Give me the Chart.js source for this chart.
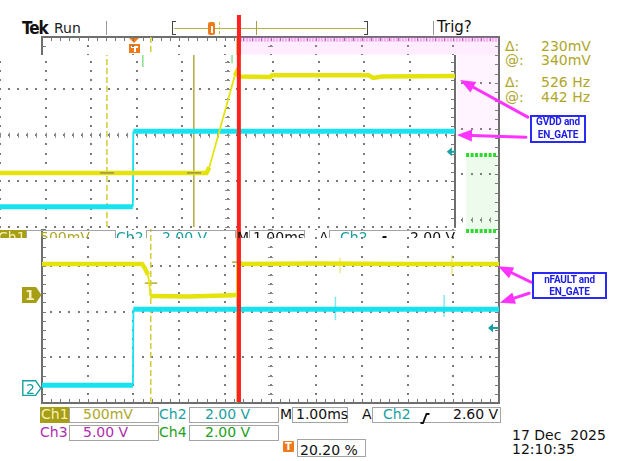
<!DOCTYPE html>
<html>
<head>
<meta charset="utf-8">
<title>Tek scope capture</title>
<script src="https://cdn.jsdelivr.net/npm/chart.js@4.4.1/dist/chart.umd.min.js"></script>
<style>
html,body{margin:0;padding:0;background:#fff;}
#wrap{position:relative;width:640px;height:461px;overflow:hidden;background:#fff;font-family:"DejaVu Sans",Verdana,sans-serif;}
#under{position:absolute;left:0;top:0;width:640px;height:461px;z-index:0;}
#cLow{position:absolute;left:0;top:0;z-index:1;display:block;}
#upWrap{position:absolute;left:0;top:55px;width:456px;height:174px;background:#fff;z-index:2;}
#cUp{display:block;}
#frag{position:absolute;left:0;top:229px;width:456px;height:9px;overflow:hidden;z-index:3;}
#over{position:absolute;left:0;top:0;width:640px;height:461px;z-index:4;pointer-events:none;}
</style>
</head>
<body>
<div id="wrap">
  <div id="under"></div>
  <canvas id="cLow" width="640" height="461"></canvas>
  <div id="upWrap"><canvas id="cUp" width="456" height="174"></canvas></div>
  <div id="frag"></div>
  <div id="over"></div>
</div>
<script>
// ================= DATA (all in scope divisions) =================
const xDivTicks   = [0,1,2,3,4,5,6,7,8,9,10];
const lowYDivTicks = [0,1,2,3,4,5,6,7,8];
const upYDivTicks  = [0,1,2,3];

// lower capture : nFAULT (Ch1, yellow) and EN_GATE (Ch2, cyan)
const lowCh1Time  = [0, 2.19, 2.25, 2.32, 2.36, 2.37, 3.20, 4.00, 4.26, 4.27, 6.00, 8.00, 10];
const lowCh1Level = [3.04, 3.04, 2.95, 2.80, 2.50, 2.34, 2.33, 2.35, 2.36, 3.04, 3.05, 3.04, 3.04];
const lowCh1GlitchTime   = [6.52, 8.97];
const lowCh1GlitchTop    = [3.17, 3.23];
const lowCh1GlitchBottom = [2.84, 2.80];
const lowCh2Time  = [0, 1.99, 2.00, 10];
const lowCh2Level = [0.39, 0.39, 2.05, 2.05];
const lowCh2GlitchTime   = [6.42, 8.80];
const lowCh2GlitchTop    = [2.32, 2.36];
const lowCh2GlitchBottom = [1.81, 1.88];
const lowCursorTime  = [2.38, 4.27];
const lowMarkStart   = [2.25, 4.16];
const lowMarkEnd     = [2.52, 4.38];
const lowMarkLevel   = [2.62, 3.08];
// Ch3 (magenta) and Ch4 (green) noise visible around the pasted upper capture
const ch3StripTime   = [4.33, 9.98];
const ch3DenseLevel  = 7.94;
const ch3StripCeil   = 8.0;
const ch3StripFloor  = 7.62;
const ch3ColumnTime  = [9.08, 9.98];
const ch3ColumnFloor = 5.9;
const ch4Time   = [9.28, 9.96];
const ch4High   = 5.42;
const ch4Low    = 3.76;
// red marker line
const redLowTime = 4.31;
const redLowSpan = [0.02, 8.48];

// upper capture : GVDD (Ch1, yellow) and EN_GATE (Ch2, cyan)
const upCh1Time  = [0, 4.54, 4.60, 5.16, 5.20, 5.25, 5.94, 5.98, 8.10, 8.20, 8.40, 10];
const upCh1Level = [1.18, 1.18, 1.30, 3.30, 3.38, 3.28, 3.27, 3.31, 3.31, 3.25, 3.28, 3.29];
const upCh2Time  = [0, 2.92, 2.93, 10];
const upCh2Level = [0.44, 0.44, 2.09, 2.09];
const upCursorTime = [2.35, 4.26];
const upMarkStart  = [2.20, 4.11];
const upMarkEnd    = [2.51, 4.42];
const upMarkLevel  = [1.18, 1.18];
const upCh4TickTime = [3.14, 5.10];
const upCh4TickFrom = [3.49, 3.57];
const redUpTime = 5.25;
const redUpSpan = [-0.1, 3.85];

// ================= STYLE =================
const YEL = '#e4e40c', CYA = '#16e2f0', OLIVE = '#b0a628', TEAL = '#1a9fa0',
      PURPLE = '#b02cb0', GREEN = '#22a022', ORANGE = '#f07a1a', RED = '#ff2020',
      MAG = '#ff33ff', BLUE = '#2020e6';

const P = (xs, ys) => xs.map((x, i) => ({x: x, y: ys[i]}));
const V = (x, y0, y1) => [{x: x, y: y0}, {x: x, y: y1}];
const H = (x0, x1, y) => [{x: x0, y: y}, {x: x1, y: y}];
function ds(data, color, width, extra) {
  return Object.assign({data: data, borderColor: color, backgroundColor: color, borderWidth: width,
    pointRadius: 0, pointHoverRadius: 0, tension: 0, fill: false, order: 5}, extra || {});
}
const thinEdges = {borderWidth: c => {
  const dx = Math.abs(c.p1.x - c.p0.x), dy = Math.abs(c.p1.y - c.p0.y);
  return dy > 3 * dx + 3 ? 1.8 : undefined;
}};

function divScale(min, max, ticks, isX) {
  return {
    type: 'linear', min: min, max: max,
    ticks: {display: false},
    grid: {display: false, drawTicks: false},
    border: {display: false},
    afterBuildTicks: s => { s.ticks = ticks.map(v => ({value: v})); },
    afterFit: s => { if (isX) s.height = 0; else s.width = 0; }
  };
}

// decorations (graticule dots, frame, center axes, trigger level arrow, annotation arrows)
const scopeDecor = {
  cLow: {sides: {top: true, right: true, bottom: true, left: true}, cx: 5, cy: 4,
         xMajor: xDivTicks, yMajor: lowYDivTicks,
         trig: {x: 9.76, y: 1.64},
         arrows: [
           {from: [10.63, 6.25], to: [9.15, 7.06]},
           {from: [10.59, 5.81], to: [9.08, 5.86]},
           {from: [10.70, 2.64], to: [9.98, 2.99]},
           {from: [10.66, 2.40], to: [10.02, 2.19]}
         ]},
  cUp: {sides: {top: false, right: true, bottom: false, left: false}, cx: 5, cy: 2,
        xMajor: xDivTicks, yMajor: upYDivTicks,
        trig: {x: 9.82, y: 1.64}, arrows: []}
};

function minorValues(max) {
  const out = [];
  for (let k = 0; k * 0.2 <= max + 1e-6; k++) out.push(k * 0.2);
  return out;
}

const scopePlugin = {
  id: 'scopeDecor',
  beforeDatasetsDraw(chart) {
    const d = scopeDecor[chart.canvas.id]; if (!d) return;
    const {ctx, chartArea: a} = chart, x = chart.scales.x, y = chart.scales.y;
    const xMin = minorValues(x.max), yMin = minorValues(y.max);
    ctx.save();
    // graticule: dots at every minor position along each major division line
    ctx.fillStyle = '#7a7a7a';
    d.xMajor.forEach(xv => {
      const px = Math.round(x.getPixelForValue(xv));
      yMin.forEach(yv => {
        const py = Math.round(y.getPixelForValue(yv));
        ctx.fillRect(px - 1, py - 1, 2, 2);
      });
    });
    d.yMajor.forEach(yv => {
      const py = Math.round(y.getPixelForValue(yv));
      xMin.forEach(xv => {
        const px = Math.round(x.getPixelForValue(xv));
        ctx.fillRect(px - 1, py - 1, 2, 2);
      });
    });
    // center axes tick marks
    const cx = x.getPixelForValue(d.cx), cy = y.getPixelForValue(d.cy);
    ctx.strokeStyle = '#8a8a8a'; ctx.lineWidth = 1;
    ctx.beginPath();
    xMin.forEach(v => { const p = Math.round(x.getPixelForValue(v)) + 0.5; ctx.moveTo(p, cy - 2.5); ctx.lineTo(p, cy + 2.5); });
    yMin.forEach(v => { const p = Math.round(y.getPixelForValue(v)) + 0.5; ctx.moveTo(cx - 2.5, p); ctx.lineTo(cx + 2.5, p); });
    ctx.stroke();
    // frame
    const s = d.sides;
    ctx.strokeStyle = '#6e6e6e'; ctx.lineWidth = 2;
    ctx.beginPath();
    if (s.top)    { ctx.moveTo(a.left - 1, a.top);    ctx.lineTo(a.right + 1, a.top); }
    if (s.bottom) { ctx.moveTo(a.left - 1, a.bottom); ctx.lineTo(a.right + 1, a.bottom); }
    if (s.left)   { ctx.moveTo(a.left, a.top);  ctx.lineTo(a.left, a.bottom); }
    if (s.right)  { ctx.moveTo(a.right, a.top); ctx.lineTo(a.right, a.bottom); }
    ctx.stroke();
    ctx.lineWidth = 1; ctx.strokeStyle = '#777';
    ctx.beginPath();
    xMin.forEach(v => {
      if (v < 0.1 || v > x.max - 0.1) return;
      const p = Math.round(x.getPixelForValue(v)) + 0.5;
      if (s.top)    { ctx.moveTo(p, a.top);    ctx.lineTo(p, a.top + 4); }
      if (s.bottom) { ctx.moveTo(p, a.bottom); ctx.lineTo(p, a.bottom - 4); }
    });
    yMin.forEach(v => {
      if (v < 0.1 || v > y.max - 0.1) return;
      const p = Math.round(y.getPixelForValue(v)) + 0.5;
      if (s.left)  { ctx.moveTo(a.left, p);  ctx.lineTo(a.left + 4, p); }
      if (s.right) { ctx.moveTo(a.right, p); ctx.lineTo(a.right - 4, p); }
    });
    ctx.stroke();
    // trigger level arrow (teal, pointing left)
    const tx = x.getPixelForValue(d.trig.x), ty = y.getPixelForValue(d.trig.y);
    ctx.fillStyle = TEAL; ctx.strokeStyle = TEAL; ctx.lineWidth = 2;
    ctx.beginPath(); ctx.moveTo(tx, ty); ctx.lineTo(tx + 5, ty - 4.5); ctx.lineTo(tx + 5, ty + 4.5); ctx.closePath(); ctx.fill();
    ctx.beginPath(); ctx.moveTo(tx + 4, ty); ctx.lineTo(tx + 10, ty); ctx.stroke();
    ctx.restore();
  },
  afterDatasetsDraw(chart) {
    const d = scopeDecor[chart.canvas.id]; if (!d) return;
    const {ctx} = chart, x = chart.scales.x, y = chart.scales.y;
    ctx.save();
    ctx.strokeStyle = MAG; ctx.fillStyle = MAG; ctx.lineWidth = 3; ctx.lineCap = 'round';
    d.arrows.forEach(ar => {
      const x0 = x.getPixelForValue(ar.from[0]), y0 = y.getPixelForValue(ar.from[1]);
      const x1 = x.getPixelForValue(ar.to[0]),   y1 = y.getPixelForValue(ar.to[1]);
      const ang = Math.atan2(y1 - y0, x1 - x0), hl = 15, hw = 6;
      const bx = x1 - hl * Math.cos(ang), by = y1 - hl * Math.sin(ang);
      ctx.beginPath(); ctx.moveTo(x0, y0); ctx.lineTo(bx, by); ctx.stroke();
      ctx.beginPath(); ctx.moveTo(x1, y1);
      ctx.lineTo(bx + hw * Math.sin(ang), by - hw * Math.cos(ang));
      ctx.lineTo(bx - hw * Math.sin(ang), by + hw * Math.cos(ang));
      ctx.closePath(); ctx.fill();
    });
    ctx.restore();
  }
};

const baseOptions = (padding, xs, ys) => ({
  responsive: false, animation: false, events: [],
  layout: {padding: padding},
  plugins: {legend: {display: false}, tooltip: {enabled: false}},
  scales: {x: xs, y: ys}
});

// ---------------- lower (full) capture ----------------
const lowSets = [
  ds(V(redLowTime, redLowSpan[0], redLowSpan[1]), RED, 4, {order: 0, clip: false}),
  ds(P(lowCh1Time, lowCh1Level), YEL, 4.5, {order: 2, segment: thinEdges}),
  ds(P(lowCh2Time, lowCh2Level), CYA, 5, {order: 3, segment: thinEdges}),
  ...lowCh1GlitchTime.map((t, i) => ds(V(t, lowCh1GlitchBottom[i], lowCh1GlitchTop[i]), 'rgba(220,220,40,0.6)', 1.5, {order: 4})),
  ...lowCh2GlitchTime.map((t, i) => ds(V(t, lowCh2GlitchBottom[i], lowCh2GlitchTop[i]), 'rgba(40,220,235,0.6)', 1.5, {order: 4})),
  ds(V(lowCursorTime[0], 0, 8), '#d4cc3a', 1.5, {order: 4, borderDash: [6, 3]}),
  ds(V(lowCursorTime[1], 0, 8), '#aea236', 1.5, {order: 4}),
  ...lowMarkStart.map((t, i) => ds(H(t, lowMarkEnd[i], lowMarkLevel[i]), '#b4aa30', 1.5, {order: 4})),
  ds(H(ch3StripTime[0], ch3StripTime[1], ch3DenseLevel), 'rgba(240,80,240,0.42)', 4, {order: 6, borderDash: [2, 1]}),
  ds(H(ch3StripTime[0], ch3StripTime[1], ch3StripCeil), 'rgba(0,0,0,0)', 0,
     {order: 7, fill: {value: ch3StripFloor}, backgroundColor: 'rgba(255,130,255,0.15)'}),
  ds(H(ch3ColumnTime[0], ch3ColumnTime[1], ch3StripFloor), 'rgba(0,0,0,0)', 0,
     {order: 7, fill: {value: ch3ColumnFloor}, backgroundColor: 'rgba(255,150,255,0.10)'}),
  ds(H(ch4Time[0], ch4Time[1], ch4High), '#2ed82e', 4, {order: 6, borderDash: [3, 1.5]}),
  ds(H(ch4Time[0], ch4Time[1], ch4Low), '#2ed82e', 4, {order: 6, borderDash: [3, 1.5]}),
  ds(H(ch4Time[0], ch4Time[1], ch4High), 'rgba(0,0,0,0)', 0,
     {order: 7, fill: {value: ch4Low}, backgroundColor: 'rgba(110,220,110,0.12)'})
];
new Chart(document.getElementById('cLow'), {
  type: 'line',
  data: {datasets: lowSets},
  options: baseOptions({left: 42, right: 141, top: 37, bottom: 58},
    divScale(0, 10, xDivTicks, true),
    divScale(0, 8, lowYDivTicks, false)),
  plugins: [scopePlugin]
});

// ---------------- upper (pasted) capture ----------------
const upSets = [
  ds(V(redUpTime, redUpSpan[0], redUpSpan[1]), RED, 4, {order: 0, clip: false}),
  ds(P(upCh1Time, upCh1Level), YEL, 4.5, {order: 2, segment: thinEdges}),
  ds(P(upCh2Time, upCh2Level), CYA, 5, {order: 3, segment: thinEdges}),
  ds(V(upCursorTime[0], 0, 3.75), '#d4cc3a', 1.5, {order: 4, borderDash: [6, 3]}),
  ds(V(upCursorTime[1], 0, 3.75), '#b4aa40', 1.5, {order: 4}),
  ...upMarkStart.map((t, i) => ds(H(t, upMarkEnd[i], upMarkLevel[i]), '#aaa030', 1.8, {order: 1})),
  ...upCh4TickTime.map((t, i) => ds(V(t, upCh4TickFrom[i], 3.75), 'rgba(90,210,90,0.7)', 1.5, {order: 4}))
];
new Chart(document.getElementById('cUp'), {
  type: 'line',
  data: {datasets: upSets},
  options: baseOptions({left: 0, right: 1, top: 0, bottom: 2},
    divScale(0, 10, xDivTicks, true),
    divScale(0, 3.75, upYDivTicks, false)),
  plugins: [scopePlugin]
});

// ================= TEXT & SCREEN FURNITURE =================
const under = document.getElementById('under'), over = document.getElementById('over'), frag = document.getElementById('frag');
function el(parent, css, text) {
  const e = document.createElement('div');
  e.style.cssText = 'position:absolute;' + css;
  if (text !== undefined) e.textContent = text;
  parent.appendChild(e); return e;
}
function txt(parent, s, left, cap, size, color, extra) {
  return el(parent, `left:${left}px;top:${(cap - 0.48 * size).toFixed(2)}px;font-size:${size}px;line-height:1;white-space:pre;color:${color};${extra || ''}`, s);
}
function txtC(parent, s, left, width, cap, size, color, extra) {
  return el(parent, `left:${left}px;width:${width}px;text-align:center;top:${(cap - 0.49 * size).toFixed(2)}px;font-size:${size}px;line-height:1;white-space:pre;color:${color};${extra || ''}`, s);
}
function box(parent, l, t, w, h, bg, border) {
  return el(parent, `left:${l}px;top:${t}px;width:${w}px;height:${h}px;box-sizing:border-box;border:${border || '1px solid #a4a4a4'};background:${bg || 'transparent'};`);
}
function edge(parent, l, t) {
  const e = el(parent, `left:${l}px;top:${t}px;width:10px;height:11px;`);
  e.innerHTML = '<svg width="10" height="11"><polyline points="0.5,10 3,10 6.5,1 9.5,1" fill="none" stroke="#111" stroke-width="1.8"/></svg>';
}
function statusRow(p, dx, dy, trig) {
  const c = 414 + dy, t = 407 + dy;
  box(p, 40 + dx, t, 29, 16, '#a69e14', '1px solid #a69e14');
  txt(p, 'Ch1', 41 + dx, c, 14, '#f6f0b4');
  box(p, 69 + dx, t, 90, 16);
  txt(p, '500mV', 83 + dx, c, 14, OLIVE);
  txt(p, 'Ch2', 159 + dx, c, 14, TEAL);
  box(p, 189 + dx, t, 90, 16);
  txt(p, '2.00 V', 205 + dx, c, 14, TEAL);
  txt(p, 'M', 280 + dx, c, 14, '#111');
  box(p, 292 + dx, t, 56, 16);
  txt(p, '1.00ms', 296 + dx, c, 14, '#111');
  txt(p, 'A', 362 + dx, c, 14, '#111');
  box(p, 372 + dx, t, 129, 16);
  txt(p, 'Ch2', 383 + dx, c, 14, TEAL);
  edge(p, 420 + dx, t + 2);
  txt(p, trig, 453 + dx, c, 14, '#111');
}

// header
txt(under, 'Tek', 22, 27.8, 17, '#111', 'font-weight:bold;font-family:"DejaVu Sans Condensed","DejaVu Sans";letter-spacing:-1px;');
txt(under, 'Run', 54, 27.7, 14, '#222');
el(under, 'left:106px;top:21px;width:1px;height:14px;background:#999;');
el(under, 'left:172px;top:21px;width:3px;height:12px;border:1.5px solid #444;border-right:none;');
el(under, 'left:174px;top:28px;width:192px;height:1px;background:#b8b048;');
el(under, 'left:364px;top:21px;width:3px;height:12px;border:1.5px solid #444;border-left:none;');
el(under, 'left:208px;top:22px;width:7px;height:13px;background:' + ORANGE + ';border-radius:2px;');
el(under, 'left:210.5px;top:26px;width:2px;height:7px;background:#fff;');
el(under, 'left:219px;top:22px;width:0;height:12px;border-left:1px dashed #c8c040;');
el(under, 'left:256px;top:21px;width:1px;height:14px;background:#a8a040;');
el(under, 'left:433px;top:21px;width:1px;height:14px;background:#999;');
txt(under, 'Trig?', 437, 27.5, 15, '#111');

// trigger position marker
el(under, 'left:129px;top:38px;width:0;height:0;border-left:5.5px solid transparent;border-right:5.5px solid transparent;border-top:5px solid ' + ORANGE + ';');
el(under, 'left:129px;top:44px;width:11px;height:9px;background:' + ORANGE + ';');
el(under, 'left:131px;top:45.5px;width:7px;height:2px;background:#fff;');
el(under, 'left:133.5px;top:45.5px;width:2px;height:6px;background:#fff;');

// cursor readouts
[['\u0394:', '230mV', 45.5], ['@:', '340mV', 60], ['\u0394:', '526 Hz', 82], ['@:', '442 Hz', 96.7]].forEach(r => {
  txt(under, r[0], 505, r[2], 14, OLIVE);
  txt(under, r[1], 541, r[2], 14, OLIVE);
});

// bottom status
statusRow(under, 0, 0, '2.60 V');
txt(under, 'Ch3', 40, 431.5, 14, PURPLE);
box(under, 69, 425, 90, 16);
txt(under, '5.00 V', 83, 431.5, 14, PURPLE);
txt(under, 'Ch4', 159, 431.5, 14, GREEN);
box(under, 189, 425, 90, 16);
txt(under, '2.00 V', 205, 431.5, 14, GREEN);
el(under, 'left:283px;top:441px;width:11px;height:11px;background:' + ORANGE + ';border-radius:1px;');
txtC(under, 'T', 283, 11, 446.5, 10, '#fff', 'font-weight:bold;');
box(under, 297, 439, 69, 18);
txt(under, '20.20 %', 300, 449.5, 14, '#111');
txt(under, '17 Dec  2025', 512, 434.5, 14, '#111');
txt(under, '12:10:35', 512, 449, 14, '#111');

// remnant of the upper capture's status bar (cut off)
statusRow(frag, -43, -406, '2.00 V');

// channel ground markers
const m = el(over, 'left:22px;top:287px;width:20px;height:17px;');
m.innerHTML = '<svg width="20" height="17"><polygon points="0,0 14,0 19.5,8 14,16 0,16" fill="#a69e14"/></svg>';
txt(over, '1', 25, 295, 14, '#f6f0c0', 'font-weight:bold;');
const m2 = el(over, 'left:22px;top:380px;width:20px;height:17px;');
m2.innerHTML = '<svg width="20" height="17"><polygon points="0.8,0.8 13.6,0.8 18.8,8.2 13.6,15.4 0.8,15.4" fill="#fff" stroke="' + TEAL + '" stroke-width="1.4"/></svg>';
txt(over, '2', 26, 388.3, 14, TEAL);

// annotation boxes
const NOTE_FONT = 'font-weight:bold;font-family:Roboto,"DejaVu Sans Condensed",sans-serif;letter-spacing:-0.2px;';
box(over, 530, 115, 56, 28, '#fff', '2px solid #2a2af5');
txtC(over, 'GVDD and', 530, 56, 121.5, 10, BLUE, NOTE_FONT);
txtC(over, 'EN_GATE', 530, 56, 134.5, 10, BLUE, NOTE_FONT);
box(over, 532, 272, 75, 27, '#fff', '2px solid #2a2af5');
txtC(over, 'nFAULT and', 532, 75, 279.5, 10, BLUE, NOTE_FONT);
txtC(over, 'EN_GATE', 532, 75, 291.5, 10, BLUE, NOTE_FONT);
</script>
</body>
</html>
